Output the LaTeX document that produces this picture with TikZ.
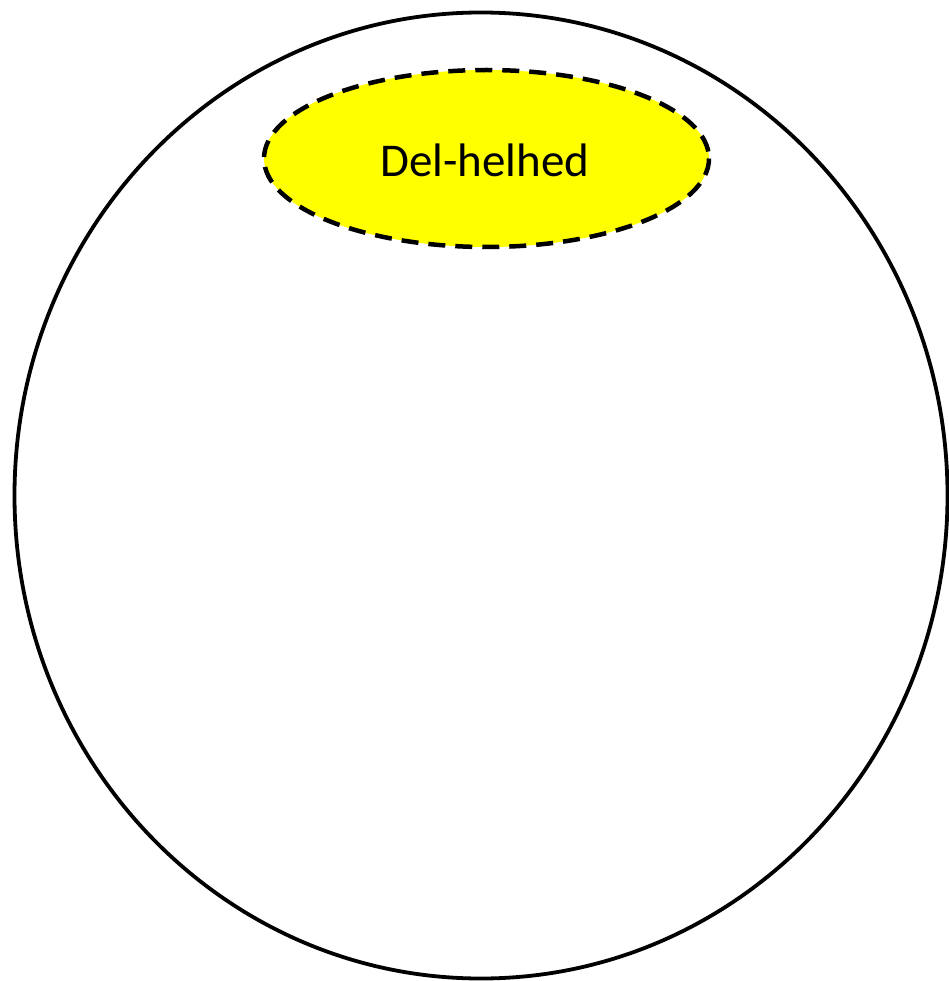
\documentclass[tikz,border=0pt]{standalone}
\usepackage{fontspec}
\setmainfont{Carlito}
\usetikzlibrary{shapes.geometric}
\definecolor{partyellow}{RGB}{255,255,0}
\tikzset{
  whole/.style={draw=black, line width=3.8pt},
  part/.style={draw=black, fill=partyellow, line width=4.5pt, dash pattern=on 17pt off 10pt},
  lbl/.style={font=\fontsize{47}{56}\selectfont, text=black, inner sep=0pt}
}
\begin{document}
\begin{tikzpicture}[x=1pt,y=-1pt]
\useasboundingbox (0,0) rectangle (948,981);
\draw[whole] (481,495.5) ellipse [x radius=466.5, y radius=483];
\path[part] (486.5,158.5) ellipse [x radius=222.5, y radius=88.5];
\node[lbl] (label) at (485,160) {Del-helhed};
\end{tikzpicture}
\end{document}
